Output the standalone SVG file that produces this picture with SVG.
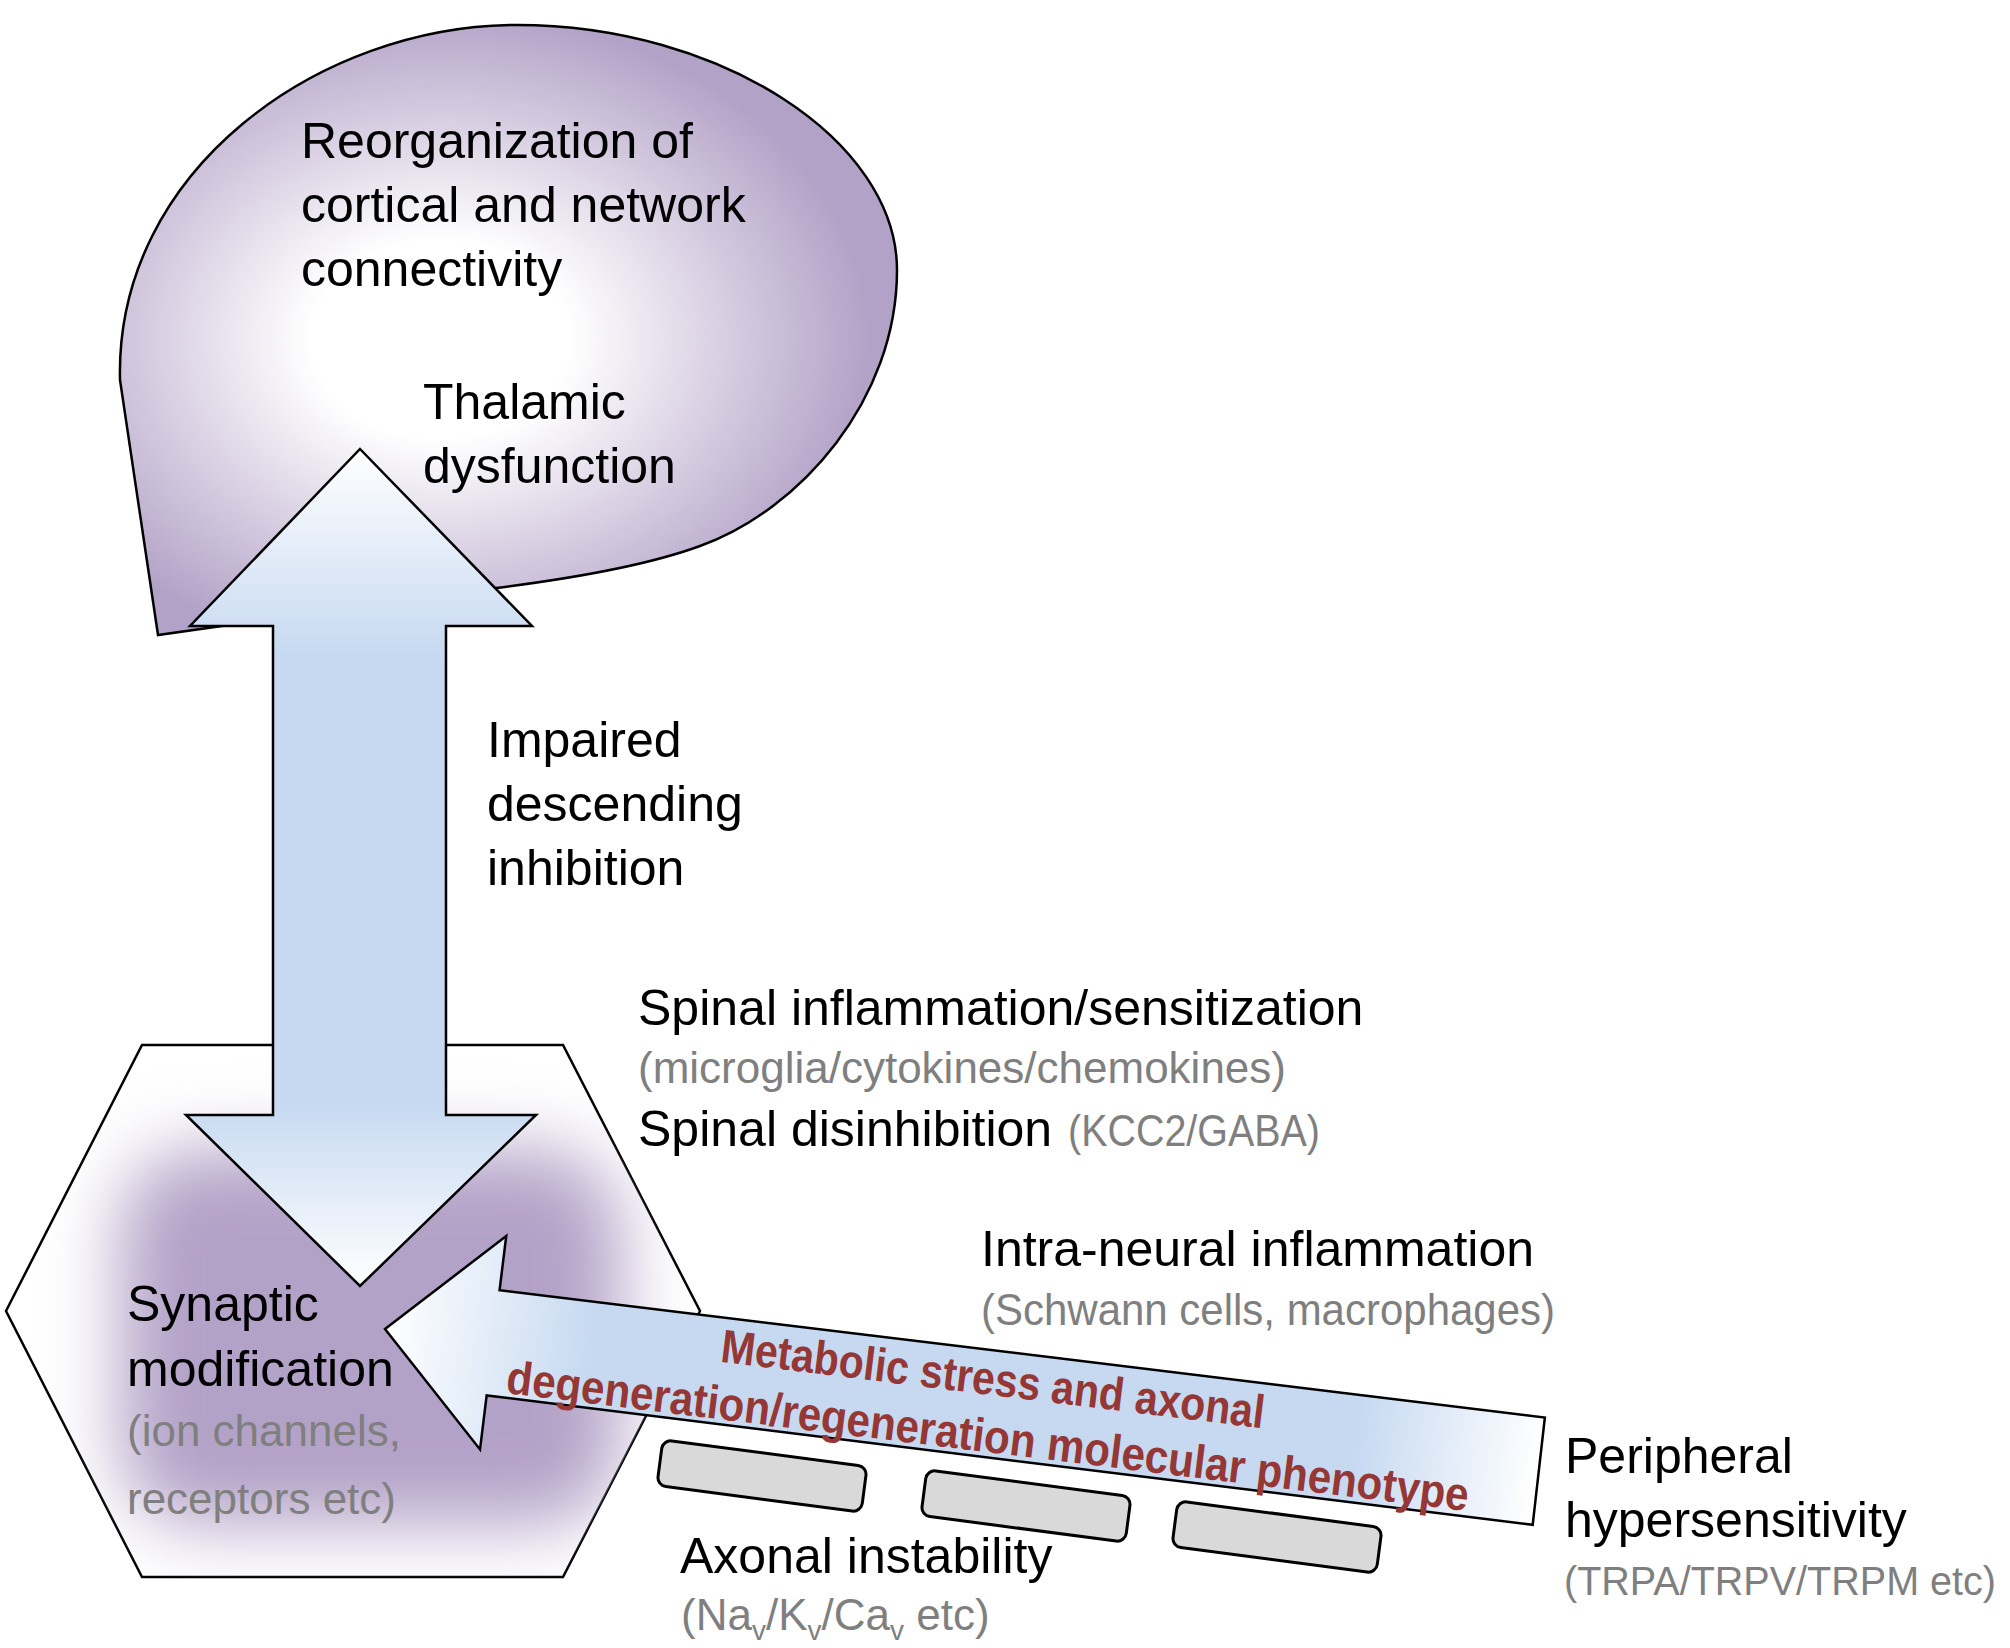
<svg xmlns="http://www.w3.org/2000/svg" width="2010" height="1648" viewBox="0 0 2010 1648">
<style>
.t{font-family:"Liberation Sans",Arial,sans-serif;font-size:50px;fill:#000}
.g{font-family:"Liberation Sans",Arial,sans-serif;font-size:44px;fill:#7f7f7f}
.r{font-family:"Liberation Sans",Arial,sans-serif;font-size:47px;font-weight:bold;fill:#953735}
.ol{stroke:#000;stroke-width:2.5;stroke-linejoin:miter}
.ax{fill:#d9d9d9;stroke:#000;stroke-width:3}
</style>
<defs>
<radialGradient id="blobG" gradientUnits="userSpaceOnUse" cx="440" cy="340" r="330" gradientTransform="translate(440 340) scale(1.3 1) translate(-440 -340)">
<stop offset="0" stop-color="#ffffff"/>
<stop offset="0.3" stop-color="#ffffff"/>
<stop offset="1" stop-color="#b3a2c7"/>
</radialGradient>
<linearGradient id="vG" gradientUnits="userSpaceOnUse" x1="0" y1="449" x2="0" y2="1286">
<stop offset="0" stop-color="#ffffff"/>
<stop offset="0.25" stop-color="#c6d9f1"/>
<stop offset="0.78" stop-color="#c6d9f1"/>
<stop offset="1" stop-color="#ffffff"/>
</linearGradient>
<linearGradient id="hG" gradientUnits="userSpaceOnUse" x1="0" y1="0" x2="1162" y2="0">
<stop offset="0" stop-color="#ffffff"/>
<stop offset="0.18" stop-color="#c6d9f1"/>
<stop offset="0.84" stop-color="#c6d9f1"/>
<stop offset="1" stop-color="#ffffff"/>
</linearGradient>
<clipPath id="hexClip">
<polygon points="6,1311 142,1045 563,1045 700,1311 563,1577 142,1577"/>
</clipPath>
<filter id="blur" x="-50%" y="-50%" width="200%" height="200%">
<feGaussianBlur stdDeviation="36"/>
</filter>
</defs>

<g id="cortex">
<path class="ol" fill="url(#blobG)" d="M158,635 L120,380 C115,170 320,25 517,25 C720,25 897,140 897,270 C897,400 800,510 700,546 C640,568 560,580 496,588 L250,622 Z"/>
<text class="t" x="301" y="158">Reorganization of</text>
<text class="t" x="301" y="222">cortical and network</text>
<text class="t" x="301" y="286">connectivity</text>
<text class="t" x="423" y="419">Thalamic</text>
<text class="t" x="423" y="483">dysfunction</text>
</g>

<g id="spinal">
<polygon class="ol" fill="#ffffff" points="6,1311 142,1045 563,1045 700,1311 563,1577 142,1577"/>
<g clip-path="url(#hexClip)">
<rect x="120" y="1150" width="500" height="375" rx="80" fill="#b3a2c7" filter="url(#blur)"/>
</g>
<text class="t" x="127" y="1321">Synaptic</text>
<text class="t" x="127" y="1386">modification</text>
<text class="g" x="127" y="1446">(ion channels,</text>
<text class="g" x="127" y="1514">receptors etc)</text>
</g>

<g id="connectors">
<path id="descending-arrow" class="ol" fill="url(#vG)" d="M360,449 L532,626 L446,626 L446,1115 L536,1115 L360,1286 L186,1115 L273,1115 L273,626 L190,626 Z"/>
<g id="peripheral-arrow" transform="translate(385,1329) rotate(7)">
<path class="ol" fill="url(#hG)" d="M0,0 L109,-107 L109,-52.5 L1162,-53.5 L1163,54.5 L109,53.5 L109,108 Z"/>
</g>
</g>

<g id="arrow-label">
<text class="r" text-anchor="middle" x="991" y="1395" textLength="547" lengthAdjust="spacingAndGlyphs" transform="rotate(7 991 1395)">Metabolic stress and axonal</text>
<text class="r" text-anchor="middle" x="986" y="1452" textLength="969" lengthAdjust="spacingAndGlyphs" transform="rotate(7 986 1452)">degeneration/regeneration molecular phenotype</text>
</g>

<g id="descending-label">
<text class="t" x="487" y="757">Impaired</text>
<text class="t" x="487" y="821">descending</text>
<text class="t" x="487" y="885">inhibition</text>
</g>

<g id="spinal-label">
<text class="t" x="638" y="1025">Spinal inflammation/sensitization</text>
<text class="g" x="638" y="1083">(microglia/cytokines/chemokines)</text>
<text class="t" x="638" y="1146">Spinal disinhibition</text>
<text class="g" x="1068" y="1146" textLength="252" lengthAdjust="spacingAndGlyphs">(KCC2/GABA)</text>
</g>

<g id="intraneural">
<text class="t" x="981" y="1266">Intra-neural inflammation</text>
<text class="g" x="981" y="1325" textLength="574" lengthAdjust="spacingAndGlyphs">(Schwann cells, macrophages)</text>
</g>

<g id="axon">
<rect class="ax" x="-103" y="-23" width="206" height="46" rx="9" transform="translate(762 1476) rotate(7.5)"/>
<rect class="ax" x="-103" y="-23" width="206" height="46" rx="9" transform="translate(1026 1506) rotate(7.5)"/>
<rect class="ax" x="-103" y="-23" width="206" height="46" rx="9" transform="translate(1277 1537) rotate(7.5)"/>
<text class="t" x="680" y="1573">Axonal instability</text>
<text class="g" x="681" y="1630">(Na<tspan dy="10" font-size="28">v</tspan><tspan dy="-10">/K</tspan><tspan dy="10" font-size="28">v</tspan><tspan dy="-10">/Ca</tspan><tspan dy="10" font-size="28">v</tspan><tspan dy="-10"> etc)</tspan></text>
</g>

<g id="peripheral">
<text class="t" x="1565" y="1473">Peripheral</text>
<text class="t" x="1565" y="1537">hypersensitivity</text>
<text class="g" x="1564" y="1595" font-size="40" textLength="432" lengthAdjust="spacingAndGlyphs" style="font-size:40px">(TRPA/TRPV/TRPM etc)</text>
</g>
</svg>
